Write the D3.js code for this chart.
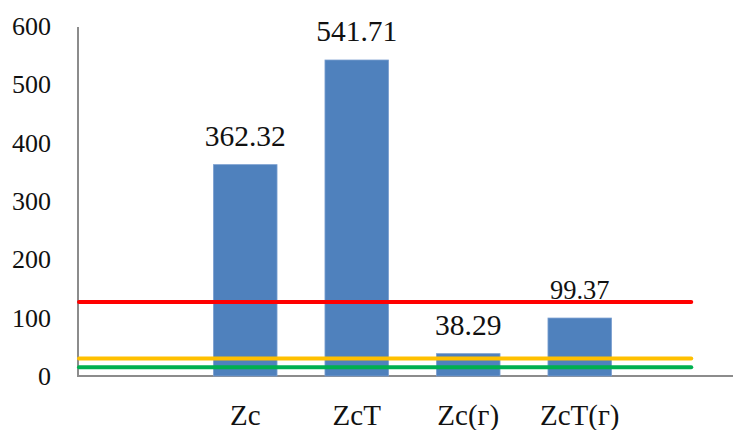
<!DOCTYPE html>
<html>
<head>
<meta charset="utf-8">
<script src="https://cdn.jsdelivr.net/npm/d3@7"></script>
<style>
  html, body { margin: 0; padding: 0; background: #fff; }
  svg { display: block; }
</style>
</head>
<body>
<svg id="chart" width="733" height="430"></svg>
<script>
// Category slots: an empty slot on each side of the four measured values
const categories = ["", "Zc", "ZcT", "Zc(г)", "ZcT(г)", " "];
const barCategories = ["Zc", "ZcT", "Zc(г)", "ZcT(г)"];
const barValues = [362.32, 541.71, 38.29, 99.37];
const valueLabels = ["362.32", "541.71", "38.29", "99.37"];
const yTicks = [0, 100, 200, 300, 400, 500, 600];
// Reference levels drawn as horizontal lines
const levelValues = [127, 30, 15];
const levelColors = ["#ff0000", "#ffc000", "#00b050"];

const FONT = "'Liberation Serif', 'Times New Roman', Times, serif";

const svg = d3.select("#chart")
  .attr("font-family", FONT);

const x = d3.scaleBand()
  .domain(categories)
  .range([78, 78 + 6 * 111.5])
  .paddingInner(0.43)
  .paddingOuter(0.215);

const y = d3.scaleLinear().domain([0, 600]).range([376, 26]);

// Axes
svg.append("line")
  .attr("x1", 78).attr("x2", 78)
  .attr("y1", y(600) + 1).attr("y2", y(0))
  .attr("stroke", "#8c8c8c").attr("stroke-width", 2);
svg.append("line")
  .attr("x1", 77).attr("x2", 733)
  .attr("y1", y(0)).attr("y2", y(0))
  .attr("stroke", "#8c8c8c").attr("stroke-width", 2);

// Y tick labels
svg.append("g").selectAll("text")
  .data(yTicks)
  .join("text")
  .attr("font-family", FONT)
  .attr("x", 51)
  .attr("y", d => y(d))
  .attr("dy", "0.34em")
  .attr("text-anchor", "end")
  .attr("font-size", 26)
  .attr("fill", "#111")
  .text(d => d);

// Bars
const bars = barCategories.map((c, i) => ({ c, v: barValues[i], label: valueLabels[i] }));
svg.append("g").selectAll("rect")
  .data(bars)
  .join("rect")
  .attr("x", d => x(d.c))
  .attr("width", x.bandwidth())
  .attr("y", d => y(d.v))
  .attr("height", d => y(0) - y(d.v))
  .attr("fill", "#4f81bd")
  .attr("stroke", "#7a9fd0")
  .attr("stroke-width", 0.8);

// Value labels above bars
svg.append("g").selectAll("text")
  .data(bars)
  .join("text")
  .attr("font-family", FONT)
  .attr("x", d => x(d.c) + x.bandwidth() / 2)
  .attr("y", d => y(d.v) - 19)
  .attr("text-anchor", "middle")
  .attr("font-size", (d, i) => i === 3 ? 26.5 : 29.5)
  .attr("fill", "#111")
  .text(d => d.label);

// Category labels
svg.append("g").selectAll("text")
  .data(barCategories)
  .join("text")
  .attr("font-family", FONT)
  .attr("x", d => x(d) + x.bandwidth() / 2)
  .attr("y", 425)
  .attr("text-anchor", "middle")
  .attr("font-size", 29)
  .attr("fill", "#111")
  .text(d => d);

// Horizontal reference lines across the plot
const lineEnd = x(" ") + x.bandwidth() / 2;
svg.append("g").selectAll("line")
  .data(levelValues)
  .join("line")
  .attr("x1", 79)
  .attr("x2", lineEnd)
  .attr("y1", d => y(d))
  .attr("y2", d => y(d))
  .attr("stroke", (d, i) => levelColors[i])
  .attr("stroke-width", 4)
  .attr("stroke-linecap", "round");
</script>
</body>
</html>
